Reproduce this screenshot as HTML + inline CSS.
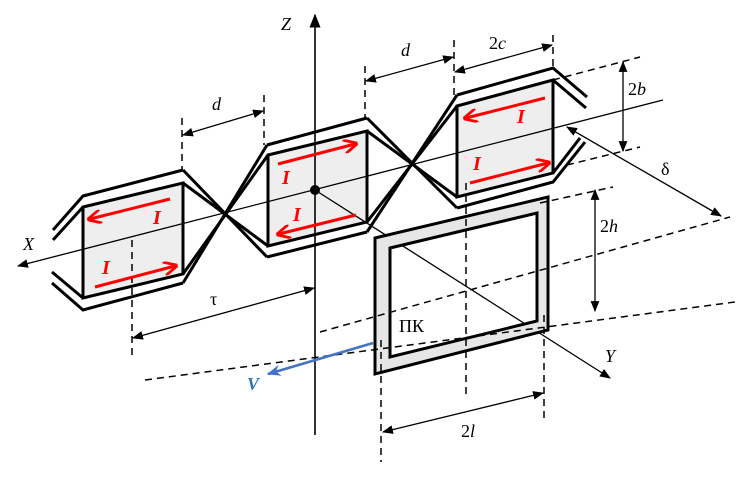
<!DOCTYPE html>
<html><head><meta charset="utf-8"><style>
html,body{margin:0;padding:0;background:#fff;}
svg{display:block;}
text{font-family:"Liberation Serif",serif;}
</style></head><body>
<svg width="739" height="479" viewBox="0 0 739 479" xmlns="http://www.w3.org/2000/svg">
<defs>
<marker id="ak" viewBox="0 0 10 10" refX="9" refY="5" markerWidth="11" markerHeight="11" markerUnits="userSpaceOnUse" orient="auto-start-reverse"><path d="M0,1 L10,5 L0,9 z" fill="#000"/></marker>
<marker id="az" viewBox="0 0 10 10" refX="9" refY="5" markerWidth="14" markerHeight="14" markerUnits="userSpaceOnUse" orient="auto"><path d="M0,1 L10,5 L0,9 z" fill="#000"/></marker>
<marker id="ar" viewBox="0 0 10 10" refX="8" refY="5" markerWidth="14" markerHeight="14" markerUnits="userSpaceOnUse" orient="auto"><path d="M0,0 L10,5 L0,10" fill="none" stroke="#f00" stroke-width="2"/></marker>
<marker id="ab" viewBox="0 0 10 10" refX="9" refY="5" markerWidth="14" markerHeight="14" markerUnits="userSpaceOnUse" orient="auto"><path d="M0,1 L10,5 L0,9 L3,5 z" fill="#4472c4"/></marker>
</defs>

<!-- shaded inner rects -->
<g fill="#eeeeee" stroke="#000" stroke-width="3">
<polygon points="83,207 183,183 183,274 83,298"/>
<polygon points="268,155 367,131 367,222 268,246"/>
<polygon points="457,106 553,80 553,173 457,197"/>
</g>

<!-- winding rails -->
<g fill="none" stroke="#000" stroke-width="3" stroke-linejoin="miter">
<polyline points="53,230 83,196 183,170"/>
<line x1="53" y1="240" x2="83" y2="207"/>
<polyline points="52,283 83,310 183,283"/>
<line x1="52" y1="272" x2="83" y2="298"/>
<line x1="183" y1="170" x2="267" y2="257"/>
<line x1="183" y1="183" x2="268" y2="246"/>
<line x1="183" y1="283" x2="267" y2="145"/>
<line x1="183" y1="274" x2="268" y2="155"/>
<line x1="267" y1="145" x2="367" y2="118"/>
<line x1="267" y1="257" x2="367" y2="232"/>
<line x1="367" y1="118" x2="457" y2="208"/>
<line x1="367" y1="131" x2="457" y2="197"/>
<line x1="367" y1="232" x2="457" y2="95"/>
<line x1="367" y1="222" x2="457" y2="106"/>
<polyline points="457,95 553,68 587,97"/>
<line x1="553" y1="80" x2="586" y2="108"/>
<polyline points="457,208 553,182 585,142"/>
<line x1="553" y1="173" x2="580" y2="138"/>
</g>

<!-- Axes -->
<line x1="315" y1="435" x2="315" y2="15" stroke="#000" stroke-width="1.6" marker-end="url(#az)"/>
<line x1="663" y1="100" x2="18" y2="266" stroke="#000" stroke-width="1.3" marker-end="url(#ak)"/>
<line x1="315" y1="190" x2="610" y2="378" stroke="#000" stroke-width="1.3" marker-end="url(#ak)"/>
<circle cx="315" cy="190" r="5" fill="#000"/>

<!-- receiving coil -->
<path d="M375,238 L548,197 L548,330 L375,374 Z M390,248 L537,213 L537,321 L390,357 Z" fill="#e6e6e6" fill-rule="evenodd" stroke="#000" stroke-width="3"/>

<!-- dashed lines -->
<g stroke="#000" stroke-width="1.5" stroke-dasharray="7,5" fill="none">
<line x1="182" y1="118" x2="182" y2="170"/>
<line x1="264" y1="95" x2="264" y2="145"/>
<line x1="365" y1="66" x2="365" y2="118"/>
<line x1="454" y1="40" x2="454" y2="95"/>
<line x1="553" y1="35" x2="553" y2="68"/>
<line x1="553" y1="80" x2="640" y2="57"/>
<line x1="567" y1="165" x2="640" y2="147"/>
<line x1="540" y1="203" x2="613" y2="187"/>
<line x1="320" y1="332" x2="730" y2="217"/>
<line x1="145" y1="380" x2="735" y2="302"/>
<line x1="132" y1="240" x2="132" y2="360"/>
<line x1="466" y1="183" x2="466" y2="395"/>
<line x1="381" y1="340" x2="381" y2="462"/>
<line x1="544" y1="315" x2="544" y2="420"/>
</g>

<!-- dimension arrows -->
<g stroke="#000" stroke-width="1.3" fill="none">
<line x1="183" y1="135" x2="263" y2="111" marker-start="url(#ak)" marker-end="url(#ak)"/>
<line x1="366" y1="81" x2="453" y2="57" marker-start="url(#ak)" marker-end="url(#ak)"/>
<line x1="455" y1="72" x2="552" y2="45" marker-start="url(#ak)" marker-end="url(#ak)"/>
<line x1="623" y1="62" x2="623" y2="151" marker-start="url(#ak)" marker-end="url(#ak)"/>
<line x1="567" y1="127" x2="721" y2="216" marker-start="url(#ak)" marker-end="url(#ak)"/>
<line x1="595" y1="190" x2="595" y2="311" marker-start="url(#ak)" marker-end="url(#ak)"/>
<line x1="133" y1="338" x2="314" y2="288" marker-start="url(#ak)" marker-end="url(#ak)"/>
<line x1="383" y1="432" x2="543" y2="393" marker-start="url(#ak)" marker-end="url(#ak)"/>
</g>

<!-- V arrow -->
<line x1="373" y1="343" x2="268" y2="374" stroke="#4472c4" stroke-width="2.5" marker-end="url(#ab)"/>

<!-- current arrows -->
<g stroke="#f00" stroke-width="3" fill="none">
<line x1="170" y1="199" x2="90" y2="219" marker-end="url(#ar)"/>
<line x1="95" y1="287" x2="175" y2="266" marker-end="url(#ar)"/>
<line x1="278" y1="164" x2="355" y2="144" marker-end="url(#ar)"/>
<line x1="356" y1="215" x2="279" y2="234" marker-end="url(#ar)"/>
<line x1="545" y1="98" x2="466" y2="118" marker-end="url(#ar)"/>
<line x1="470" y1="183" x2="548" y2="163" marker-end="url(#ar)"/>
</g>
<g fill="#f00" font-style="italic" font-weight="bold" font-size="20">
<text x="153" y="224">I</text>
<text x="102" y="274">I</text>
<text x="282" y="184">I</text>
<text x="293" y="221">I</text>
<text x="517" y="123">I</text>
<text x="473" y="170">I</text>
</g>

<!-- labels -->
<g fill="#000" font-size="18">
<text x="281" y="30" font-style="italic">Z</text>
<text x="23" y="250" font-style="italic">X</text>
<text x="605" y="362" font-style="italic">Y</text>
<text x="212" y="110" font-style="italic">d</text>
<text x="401" y="56" font-style="italic">d</text>
<text x="489" y="49">2<tspan font-style="italic">c</tspan></text>
<text x="628" y="95">2<tspan font-style="italic">b</tspan></text>
<text x="661" y="175">δ</text>
<text x="600" y="232">2<tspan font-style="italic">h</tspan></text>
<text x="210" y="305">τ</text>
<text x="399" y="332">ПК</text>
<text x="461" y="437">2<tspan font-style="italic">l</tspan></text>
</g>
<text x="247" y="390" fill="#2e75b6" font-size="18" font-weight="bold" font-style="italic">V</text>
</svg>
</body></html>
